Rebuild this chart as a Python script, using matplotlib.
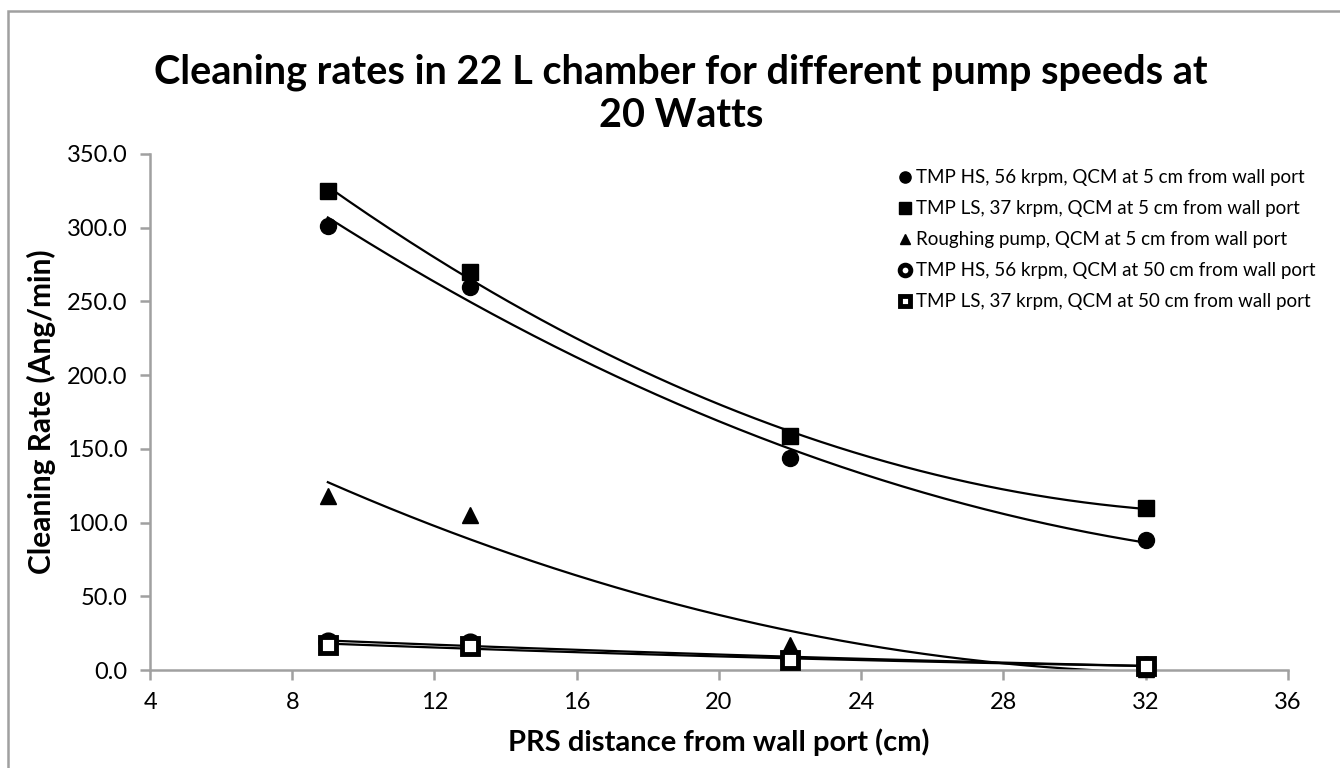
import numpy as np
import matplotlib.pyplot as plt
from matplotlib.patches import Rectangle

plt.rcParams['font.family'] = ['Lato', 'DejaVu Sans']

# PRS distance from wall port (cm)
distance = [9, 13, 22, 32]

# cleaning rates (Ang/min)
hs_5cm = [301, 260, 144, 88]
ls_5cm = [325, 270, 159, 110]
rough_5cm = [118, 105, 17, 1]
hs_50cm = [19, 18, 8, 3]
ls_50cm = [17, 16, 7, 3]

labels = ['TMP HS, 56 krpm, QCM at 5 cm from wall port',
          'TMP LS, 37 krpm, QCM at 5 cm from wall port',
          'Roughing pump, QCM at 5 cm from wall port',
          'TMP HS, 56 krpm, QCM at 50 cm from wall port',
          'TMP LS, 37 krpm, QCM at 50 cm from wall port']
xticks = [4, 8, 12, 16, 20, 24, 28, 32, 36]
yticks = [0, 50, 100, 150, 200, 250, 300, 350]

series = [hs_5cm, ls_5cm, rough_5cm, hs_50cm, ls_50cm]
markers = ['o', 's', '^', 'o', 's']
faces = ['black', 'black', 'black', 'white', 'white']
sizes = [11.5, 11.5, 11, 11, 11]

fig = plt.figure(figsize=(13.4, 7.68), dpi=100)
ax = fig.add_axes([0.112, 0.1276, 0.849, 0.672])

x = np.array(distance, dtype=float)
xs = np.linspace(x.min(), x.max(), 200)
for vals, m, fc, ms, lab in zip(series, markers, faces, sizes, labels):
    # 2nd order polynomial trendline, as in the spreadsheet
    coef = np.polyfit(x, vals, 2)
    ax.plot(xs, np.polyval(coef, xs), color='black', lw=1.6)
    ax.plot(x, vals, linestyle='none', marker=m, ms=ms, mfc=fc,
            mec='black', mew=3.5 if fc == 'white' else 1, label=lab,
            clip_on=False, zorder=5)

ax.set_xlim(4, 36)
ax.set_ylim(0, 350)
ax.set_xticks(xticks)
ax.set_yticks(yticks)
ax.set_yticklabels(['%.1f' % v for v in yticks])
for s in ['top', 'right']:
    ax.spines[s].set_visible(False)
for s in ['left', 'bottom']:
    ax.spines[s].set_color('#a0a0a0')
    ax.spines[s].set_linewidth(1.8)
ax.tick_params(direction='out', length=7, width=1.8, color='#a0a0a0',
               labelsize=17)
ax.tick_params(axis='x', pad=9)
ax.tick_params(axis='y', pad=9)

ax.set_xlabel('PRS distance from wall port (cm)', fontsize=21,
              fontweight='bold', labelpad=11)
ax.set_ylabel('Cleaning Rate (Ang/min)', fontsize=21.5, fontweight='bold',
              labelpad=8)

fig.text(0.508, 0.878,
         'Cleaning rates in 22 L chamber for different pump speeds at\n20 Watts',
         ha='center', va='center', fontsize=28.5, fontweight='bold',
         linespacing=1.2)

leg = ax.legend(loc='upper left', bbox_to_anchor=(0.65, 0.985), frameon=False,
                fontsize=13.5, handlelength=0.8, handletextpad=0.2,
                labelspacing=0.75, markerscale=0.7, borderaxespad=0.0)

fig.patches.append(Rectangle((8 / 1340, -0.02), 1.1, 1.02 - 11 / 768,
                             transform=fig.transFigure, fill=False,
                             edgecolor='#a0a0a0', lw=1.8))

fig.savefig('out.png', dpi=100)
